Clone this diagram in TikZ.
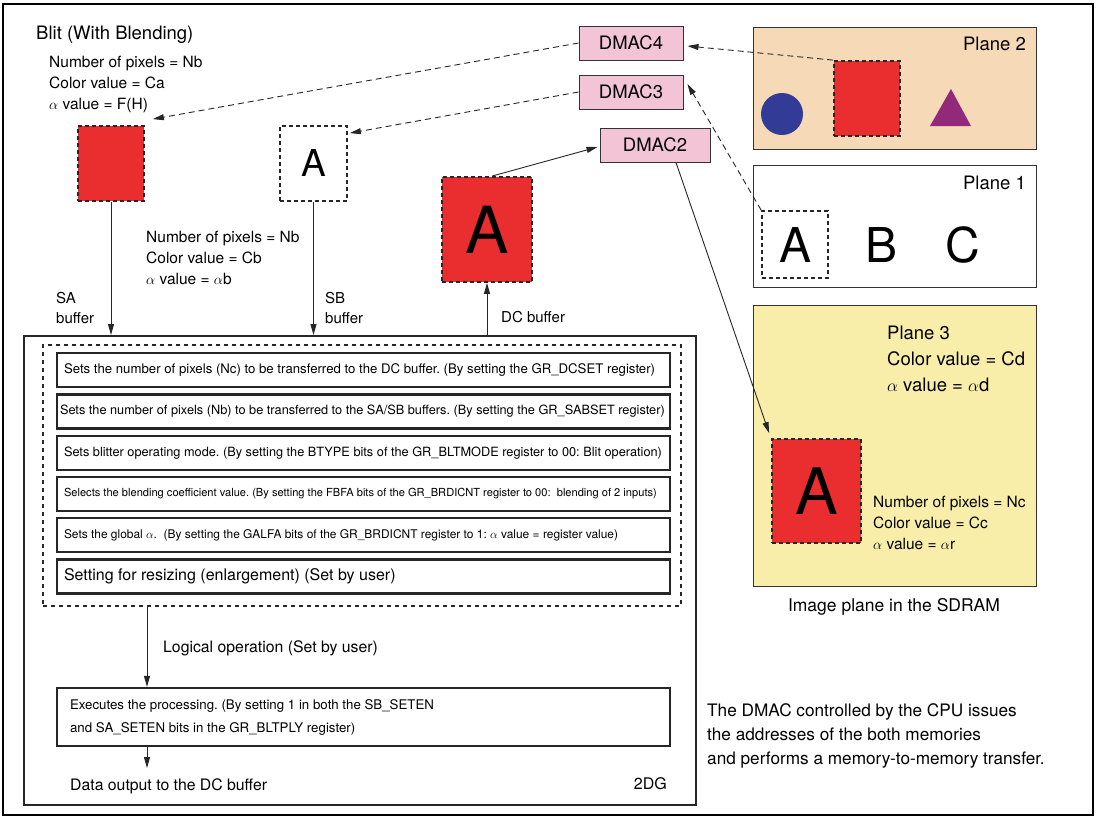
\documentclass[tikz,border=0pt]{standalone}
\usepackage{fontspec}
\setmainfont{TeX Gyre Heros}
\usetikzlibrary{arrows.meta, positioning}

\definecolor{sqred}{HTML}{EA2D2E}
\definecolor{dmacpink}{HTML}{F2C4D5}
\definecolor{peach}{HTML}{F6D9B7}
\definecolor{paleyellow}{HTML}{F8EEAA}
\definecolor{dotblue}{HTML}{323C96}
\definecolor{triplum}{HTML}{93297A}

\newcommand{\fsz}[1]{\fontsize{#1}{#1}\selectfont}
\frenchspacing

\begin{document}
\begin{tikzpicture}[x=1pt, y=-1pt,
  txt/.style={inner sep=0pt, align=left, font=\fontsize{15.5}{21}\selectfont},
  redsq/.style={draw=black!85, fill=sqred, line width=1.8pt, dash pattern=on 4pt off 3pt, inner sep=0pt},
  ltrsq/.style={draw=black!85, fill=white, line width=1.8pt, dash pattern=on 4pt off 3pt, inner sep=0pt},
  dmac/.style={draw=black!80, fill=dmacpink, line width=1pt, minimum height=34pt, inner sep=0pt, font=\fontsize{18.5}{20}\selectfont},
  plane/.style={draw=black!80, line width=1pt, inner sep=0pt, minimum width=283pt},
  regbox/.style={draw=black!85, line width=2.2pt, minimum width=613pt, minimum height=34pt, inner xsep=7pt, inner ysep=0pt, text width=599pt, align=flush left},
  link/.style={-{Triangle[length=11pt,width=6pt]}, line width=0.9pt, black!85},
  dlink/.style={link, dash pattern=on 6pt off 4pt},
]
\useasboundingbox (0,0) rectangle (1099,820);
\draw[line width=2pt] (3,4) rectangle (1093,815);

% left side: source buffers
\node[txt, anchor=west, font=\fsz{18.5}] (title) at (36,35) {Blit (With Blending)};
\node[txt, anchor=west] (satxt) at (49,84) {Number of pixels = Nb\\Color value = Ca\\$\alpha$ value = F(H)};
\node[redsq, minimum width=66pt, minimum height=75pt] (sa) at (111,163.5) {};
\node[ltrsq, minimum width=67pt, minimum height=75pt, font=\fsz{37}] (sb) at (313.5,163.5) {A};
\node[txt, anchor=west] (sbtxt) at (146,258) {Number of pixels = Nb\\Color value = Cb\\$\alpha$ value = $\alpha$b};
\node[redsq, minimum width=90pt, minimum height=105pt, font=\fsz{65}] (dc) at (487,229.5) {A};

% DMAC channels
\node[dmac, minimum width=104pt] (dmac4) at (631,43) {DMAC4};
\node[dmac, minimum width=104pt] (dmac3) at (631,92) {DMAC3};
\node[dmac, minimum width=110pt] (dmac2) at (655,145) {DMAC2};

% 2DG block
\node[draw=black!85, line width=2pt, minimum width=672pt, minimum height=469pt, inner sep=0pt] (g2d) at (360,570.5) {};
\node[draw=black!85, line width=2pt, dash pattern=on 4pt off 4pt, minimum width=638pt, minimum height=261pt, inner sep=0pt] (setup) at (362,475.5) {};
\node[regbox, font=\fsz{13.2}] (reg1) at (363.5,370) {Sets the number of pixels (Nc) to be transferred to the DC buffer. (By setting the GR\_DCSET register)};
\node[regbox, font=\fsz{12.75}, inner xsep=3pt, text width=607pt] (reg2) at (363.5,411.5) {Sets the number of pixels (Nb) to be transferred to the SA/SB buffers. (By setting the GR\_SABSET register)};
\node[regbox, font=\fsz{12.75}] (reg3) at (363.5,453) {Sets blitter operating mode. (By setting the BTYPE bits of the GR\_BLTMODE register to 00: Blit operation)};
\node[regbox, font=\fsz{11.1}] (reg4) at (363.5,494) {Selects the blending coefficient value. (By setting the FBFA bits of the GR\_BRDICNT register to 00:~ blending of 2 inputs)};
\node[regbox, font=\fsz{11.95}] (reg5) at (363.5,535) {Sets the global $\alpha$.~ (By setting the GALFA bits of the GR\_BRDICNT register to 1: $\alpha$ value = register value)};
\node[regbox, font=\fsz{16}] (reg6) at (363.5,576.5) {Setting for resizing (enlargement) (Set by user)};
\node[draw=black!85, line width=2.2pt, minimum width=613pt, minimum height=58pt, inner xsep=13pt, text width=587pt, align=flush left, font=\fontsize{13.3}{23}\selectfont] (exec) at (363.5,717) {Executes the processing. (By setting 1 in both the SB\_SETEN\\and SA\_SETEN bits in the GR\_BLTPLY register)};
\coordinate (out) at (147,768);
\node[txt, anchor=west, font=\fsz{15.8}] (logic) at (163,648) {Logical operation (Set by user)};
\node[txt, anchor=west, font=\fsz{15.8}] (dout) at (70,786) {Data output to the DC buffer};
\node[txt, anchor=east, font=\fsz{16}] (g2dname) at (667,784) {2DG};

% buffer labels
\node[txt, anchor=west, font=\fontsize{15}{19.5}\selectfont] (salbl) at (56,308) {SA\\buffer};
\node[txt, anchor=west, font=\fontsize{15}{19.5}\selectfont] (sblbl) at (325,308) {SB\\buffer};
\node[txt, anchor=west, font=\fsz{15}] (dclbl) at (501,317) {DC buffer};

% image planes
\node[plane, fill=peach, minimum height=122pt] (p2) at (894.5,88) {};
\node[txt, anchor=east, font=\fsz{18.5}] (p2name) at (1026,44) {Plane 2};
\node[circle, fill=dotblue, minimum size=42pt, inner sep=0pt] (dot) at (782,114) {};
\node[redsq, minimum width=66pt, minimum height=75pt] (p2sq) at (867,98.5) {};
\fill[triplum] (930,126) -- (951,89) -- (971,126) -- cycle;

\node[plane, fill=white, minimum height=122pt] (p1) at (894.5,226) {};
\node[txt, anchor=east, font=\fsz{18.5}] (p1name) at (1026,183) {Plane 1};
\node[ltrsq, fill=none, minimum width=66pt, minimum height=67pt, font=\fsz{48}] (p1a) at (795,244.5) {A};
\node[font=\fsz{48}, inner sep=0pt] (p1b) at (881,244.5) {B};
\node[font=\fsz{48}, inner sep=0pt] (p1c) at (963,244.5) {C};

\node[plane, fill=paleyellow, minimum height=281pt] (p3) at (894.5,445.5) {};
\node[txt, anchor=west, font=\fontsize{18.5}{26}\selectfont] (p3name) at (887,359) {Plane 3\\Color value = Cd\\$\alpha$ value = $\alpha$d};
\node[redsq, minimum width=89pt, minimum height=104pt, font=\fsz{64}] (p3sq) at (816.5,491) {A};
\node[txt, anchor=west] (p3txt) at (873,523) {Number of pixels = Nc\\Color value = Cc\\$\alpha$ value = $\alpha$r};
\node[txt, font=\fsz{17.5}] (sdram) at (894,607) {Image plane in the SDRAM};

\node[txt, anchor=west, font=\fontsize{17.2}{24}\selectfont] (note) at (707,736) {The DMAC controlled by the CPU issues\\the addresses of the both memories\\and performs a memory-to-memory transfer.};

% connectors
\draw[dlink] (dmac4.west) -- ([shift={(8,-6)}]sa.north east);
\draw[dlink] (dmac3.west) -- ([shift={(2,8)}]sb.north east);
\draw[dlink] (p2sq.north west) -- ([shift={(4,3)}]dmac4.east);
\draw[dlink] (p1a.north west) -- ([shift={(4,-8)}]dmac3.east);
\draw[link] ([xshift=5pt]dc.north) -- ([shift={(-2,2)}]dmac2.west);
\draw[link] ([xshift=21pt]dmac2.south) -- ([shift={(-2,-5)}]p3sq.north west);
\draw[link] (sa.south) -- (sa.south |- g2d.north);
\draw[link] (sb.south) -- (sb.south |- g2d.north);
\draw[link] (dc.south |- g2d.north) -- (dc.south);
\draw[link] (setup.south -| out) -- (exec.north -| out);
\draw[link] (exec.south -| out) -- (out);
\end{tikzpicture}
\end{document}
